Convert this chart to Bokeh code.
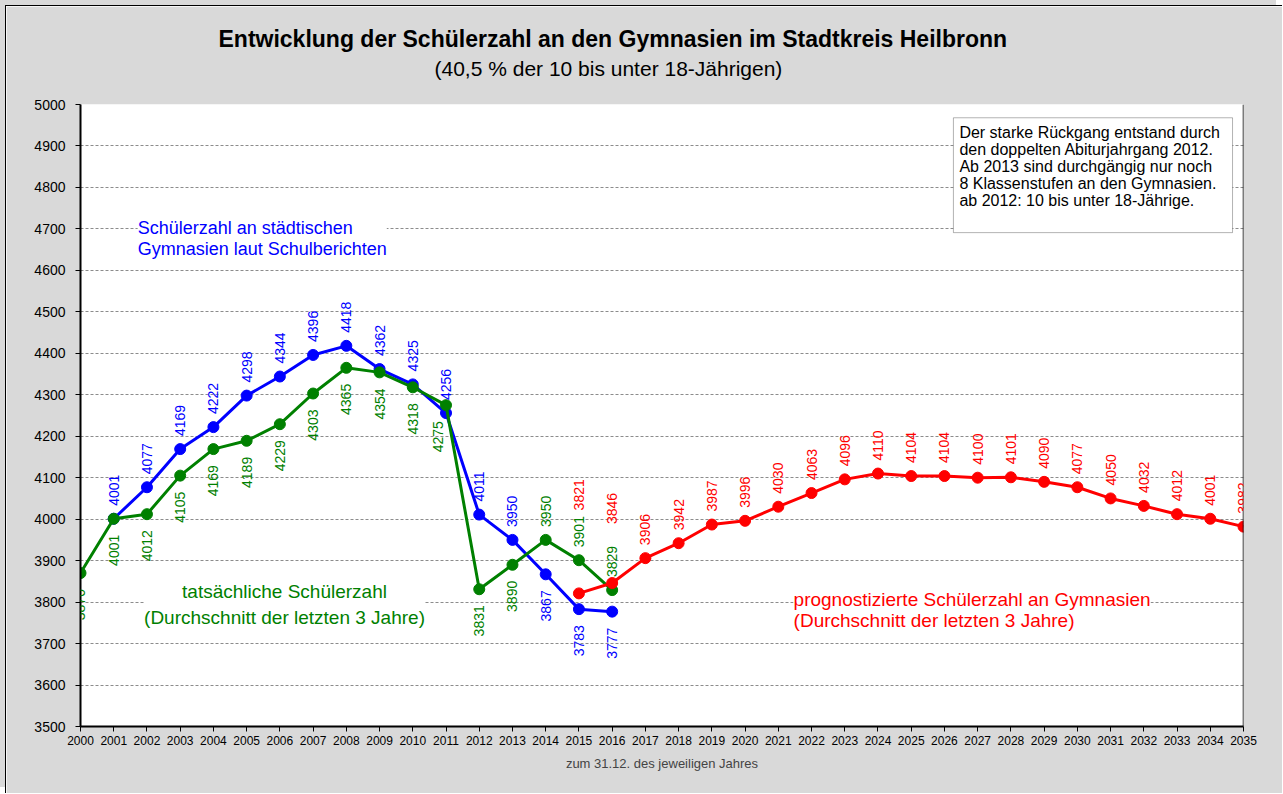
import math
from bokeh.plotting import figure
from bokeh.models import (ColumnDataSource, LabelSet, Label, Title, FixedTicker,
                          Span, BoxAnnotation)
from bokeh.core.properties import value
from bokeh.embed import file_html
from bokeh.resources import INLINE

# ---------------- data ----------------
blue_years = list(range(2001, 2017))
blue_values = [4001, 4077, 4169, 4222, 4298, 4344, 4396, 4418, 4362, 4325,
               4256, 4011, 3950, 3867, 3783, 3777]

green_years = list(range(2000, 2017))
green_values = [3870, 4001, 4012, 4105, 4169, 4189, 4229, 4303, 4365, 4354,
                4318, 4275, 3831, 3890, 3950, 3901, 3829]

red_years = list(range(2015, 2036))
red_values = [3821, 3846, 3906, 3942, 3987, 3996, 4030, 4063, 4096, 4110,
              4104, 4104, 4100, 4101, 4090, 4077, 4050, 4032, 4012, 4001, 3982]

x_ticks = list(range(2000, 2036))
y_ticks = list(range(3500, 5001, 100))

title_text = "Entwicklung der Schülerzahl an den Gymnasien im Stadtkreis Heilbronn"
subtitle_text = "(40,5 % der 10 bis unter 18-Jährigen)"
x_label = "zum 31.12. des jeweiligen Jahres"
blue_caption = "Schülerzahl an städtischen\nGymnasien laut Schulberichten"
green_caption = "tatsächliche Schülerzahl\n(Durchschnitt der letzten 3 Jahre)"
red_caption = "prognostizierte Schülerzahl an Gymnasien\n(Durchschnitt der letzten 3 Jahre)"
note_text = ("Der starke Rückgang entstand durch\nden doppelten Abiturjahrgang 2012.\n"
             "Ab 2013 sind durchgängig nur noch\n8 Klassenstufen an den Gymnasien.\n"
             "ab 2012: 10 bis unter 18-Jährige.")

# ---------------- label placement (style) ----------------
blue_below = {2014, 2015, 2016}
green_above = {2014, 2015, 2016}
red_extra = {2015: 70, 2016: 46}
green_shift = {2011: -8}

FONT = "Liberation Sans"
BG = "#D9D9D9"
BLUE, GREEN, RED = "#0000FF", "#008000", "#FF0000"

p = figure(width=1277, height=788, x_range=(2000, 2035), y_range=(3500, 5000),
           output_backend="svg", toolbar_location=None,
           min_border_left=74, min_border_right=40, min_border_top=98,
           min_border_bottom=68)
p.background_fill_color = "white"
p.border_fill_color = BG
p.outline_line_color = None
p.styles = {"margin-left": "5px", "margin-top": "5px",
            "border-left": "1px solid black", "border-top": "1px solid black",
            "box-shadow": "-6px -6px 0 0 " + BG}

# spacer between frame and subtitle (drawn in the background colour)
p.add_layout(Title(text=".", text_font=FONT, text_font_size="10px", text_color=BG,
                   align="right", standoff=15), "above")
p.add_layout(Title(text=subtitle_text, text_font=FONT, text_font_size="21px",
                   text_font_style="normal", align="left", offset=354,
                   standoff=0, text_color="black"), "above")
p.add_layout(Title(text=title_text, text_font=FONT, text_font_size="23px",
                   text_font_style="bold", align="left", offset=138,
                   standoff=6, text_color="black"), "above")

p.xgrid.visible = False
p.ygrid.grid_line_color = "#8C8C8C"
p.ygrid.grid_line_dash = "3 2"
p.ygrid.grid_line_width = 1

p.xaxis.ticker = FixedTicker(ticks=x_ticks)
p.yaxis.ticker = FixedTicker(ticks=y_ticks)
for ax in (p.xaxis[0], p.yaxis[0]):
    ax.axis_line_width = 2
    ax.axis_line_color = "black"
    ax.major_tick_line_color = "black"
    ax.major_tick_out = 5
    ax.major_tick_in = 0
    ax.minor_tick_line_color = None
    ax.major_label_text_font = FONT
    ax.major_label_text_color = "black"
p.yaxis.major_label_text_font_size = "14px"
p.yaxis.major_label_standoff = 10
p.xaxis.major_label_text_font_size = "12px"
p.xaxis.major_label_standoff = 4
p.xaxis.axis_label = x_label
p.xaxis.axis_label_text_font = FONT
p.xaxis.axis_label_text_font_size = "13px"
p.xaxis.axis_label_text_font_style = "normal"
p.xaxis.axis_label_standoff = 8

p.add_layout(Span(location=2035, dimension="height", line_color="black", line_width=1.5))

# ---------------- series ----------------
def series(xs, ys, color):
    p.line(xs, ys, line_color=color, line_width=3)
    p.scatter(xs, ys, size=11, fill_color=color, line_color=color)

series(blue_years, blue_values, BLUE)
series(green_years, green_values, GREEN)
series(red_years, red_values, RED)

# ---------------- data labels ----------------
def labels(xs, ys, color, below_set, extra=None, shift=None):
    extra = extra or {}
    shift = shift or {}
    up = {"x": [], "y": [], "t": [], "o": [], "dx": []}
    dn = {"x": [], "y": [], "t": [], "dx": []}
    for x, y in zip(xs, ys):
        d = dn if x in below_set else up
        d["x"].append(x); d["y"].append(y); d["t"].append(str(y))
        d["dx"].append(shift.get(x, 0))
        if d is up:
            up["o"].append(13 + extra.get(x, 0))
    if up["x"]:
        p.add_layout(LabelSet(x="x", y="y", text="t", source=ColumnDataSource(up),
                              angle=math.pi / 2, y_offset="o", x_offset="dx",
                              text_align="left", text_baseline="middle",
                              text_color=color, text_font=value(FONT),
                              text_font_size="14px"))
    if dn["x"]:
        p.add_layout(LabelSet(x="x", y="y", text="t", source=ColumnDataSource(dn),
                              angle=math.pi / 2, y_offset=-16, x_offset="dx",
                              text_align="right", text_baseline="middle",
                              text_color=color, text_font=value(FONT),
                              text_font_size="14px"))

labels(blue_years, blue_values, BLUE, blue_below)
labels(green_years, green_values, GREEN, set(green_years) - green_above,
       shift=green_shift)
labels(red_years, red_values, RED, set(), red_extra)

# ---------------- captions ----------------
p.add_layout(Label(x=2001.72, y=4727, text=blue_caption, text_align="left",
                   text_baseline="top", text_color=BLUE, text_font=FONT,
                   text_font_size="18px", background_fill_color="white",
                   text_line_height=1.07))
p.add_layout(Label(x=2006.14, y=3850, text=green_caption, text_align="center",
                   text_baseline="top", text_color=GREEN, text_font=FONT,
                   text_font_size="19px", background_fill_color="white",
                   text_line_height=1.2))
p.add_layout(Label(x=2021.46, y=3832, text=red_caption, text_align="left",
                   text_baseline="top", text_color=RED, text_font=FONT,
                   text_font_size="19px", background_fill_color="white",
                   text_line_height=1.02))

p.add_layout(BoxAnnotation(left=2026.27, right=2034.67, top=4968, bottom=4691,
                           fill_color="white", fill_alpha=1, line_color="black",
                           line_width=1, level="annotation"))
p.add_layout(Label(x=2026.45, y=4953, text=note_text, text_align="left",
                   text_baseline="top", text_color="black", text_font=FONT,
                   text_font_size="16px", text_line_height=1.0))

open("out.html", "w").write(file_html(p, INLINE))
